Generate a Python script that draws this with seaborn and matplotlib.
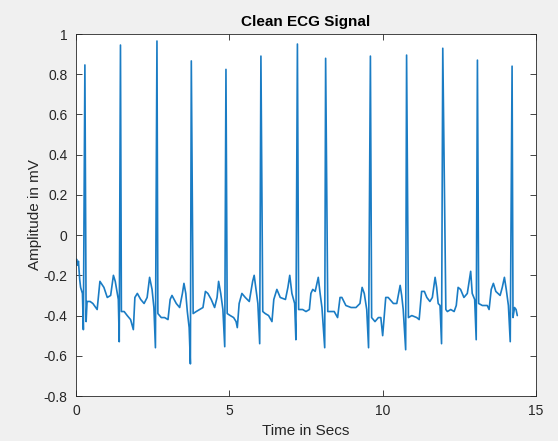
import matplotlib
matplotlib.use("Agg")
import matplotlib.pyplot as plt
import seaborn as sns

# ECG trace (seconds, mV)
time_s = [
    0.00, 0.02, 0.05, 0.08, 0.12, 0.15, 0.21, 0.24, 0.29, 0.33, 0.36, 0.46, 0.55, 0.69,
    0.78, 0.91, 1.02, 1.13, 1.22, 1.28, 1.38, 1.41, 1.45,
    1.48, 1.57, 1.67, 1.78, 1.87, 1.92, 2.00, 2.11, 2.22, 2.32, 2.40, 2.48, 2.54, 2.59, 2.64,
    2.67, 2.78, 2.89, 3.00, 3.07, 3.13, 3.27, 3.38, 3.47, 3.52, 3.58, 3.63, 3.69, 3.73, 3.76,
    3.82, 3.92, 4.03, 4.14, 4.22, 4.30, 4.41, 4.52, 4.60, 4.65, 4.72, 4.79, 4.85, 4.89,
    4.93, 5.03, 5.14, 5.22, 5.26, 5.32, 5.41, 5.52, 5.65, 5.76, 5.81, 5.87, 5.93, 5.99, 6.03,
    6.09, 6.17, 6.28, 6.39, 6.45, 6.55, 6.66, 6.83, 6.91, 6.97, 7.04, 7.13, 7.17, 7.22,
    7.26, 7.39, 7.50, 7.61, 7.66, 7.72, 7.80, 7.90, 7.96, 8.02, 8.11, 8.14,
    8.21, 8.32, 8.42, 8.53, 8.61, 8.67, 8.80, 8.97, 9.13, 9.26, 9.33, 9.40, 9.48, 9.54, 9.60,
    9.64, 9.75, 9.86, 9.94, 10.00, 10.10, 10.18, 10.35, 10.46, 10.57, 10.62, 10.67, 10.75, 10.78,
    10.84, 10.95, 11.11, 11.19, 11.27, 11.36, 11.44, 11.54, 11.62, 11.71, 11.76, 11.81, 11.87, 11.92, 11.96,
    12.06, 12.11, 12.22, 12.33, 12.40, 12.46, 12.54, 12.65, 12.76, 12.87, 12.92, 13.00, 13.05, 13.09,
    13.13, 13.25, 13.41, 13.47, 13.54, 13.61, 13.69, 13.83, 13.90, 13.97, 14.03, 14.10, 14.16, 14.22,
    14.25, 14.30, 14.35, 14.39,
]
amplitude_mv = [
    -0.13, -0.12, -0.15, -0.13, -0.22, -0.26, -0.29, -0.47, 0.846, -0.43, -0.33, -0.33, -0.34, -0.37,
    -0.23, -0.26, -0.31, -0.30, -0.20, -0.23, -0.32, -0.53, 0.945,
    -0.38, -0.38, -0.40, -0.42, -0.47, -0.31, -0.29, -0.32, -0.34, -0.31, -0.21, -0.27, -0.36, -0.56, 0.965,
    -0.39, -0.41, -0.41, -0.42, -0.32, -0.30, -0.34, -0.36, -0.29, -0.24, -0.29, -0.38, -0.46, -0.64, 0.866,
    -0.39, -0.38, -0.37, -0.36, -0.28, -0.29, -0.32, -0.36, -0.31, -0.23, -0.29, -0.37, -0.555, 0.824,
    -0.39, -0.40, -0.41, -0.43, -0.46, -0.34, -0.29, -0.31, -0.33, -0.23, -0.20, -0.27, -0.34, -0.54, 0.89,
    -0.38, -0.39, -0.40, -0.43, -0.32, -0.27, -0.31, -0.32, -0.26, -0.20, -0.29, -0.34, -0.52, 0.95,
    -0.37, -0.37, -0.38, -0.37, -0.29, -0.27, -0.28, -0.21, -0.29, -0.36, -0.56, 0.879,
    -0.38, -0.38, -0.38, -0.41, -0.31, -0.31, -0.35, -0.36, -0.36, -0.34, -0.26, -0.29, -0.37, -0.56, 0.89,
    -0.41, -0.43, -0.41, -0.41, -0.50, -0.31, -0.31, -0.34, -0.34, -0.25, -0.30, -0.37, -0.57, 0.895,
    -0.41, -0.40, -0.41, -0.42, -0.28, -0.28, -0.31, -0.33, -0.31, -0.21, -0.26, -0.34, -0.35, -0.54, 0.929,
    -0.37, -0.38, -0.37, -0.38, -0.35, -0.26, -0.27, -0.31, -0.29, -0.18, -0.29, -0.32, -0.52, 0.87,
    -0.34, -0.35, -0.35, -0.37, -0.27, -0.24, -0.28, -0.30, -0.26, -0.21, -0.27, -0.35, -0.53, 0.84,
    -0.41, -0.36, -0.37, -0.40,
]

x_ticks = [0, 5, 10, 15]
y_ticks = [-0.8, -0.6, -0.4, -0.2, 0, 0.2, 0.4, 0.6, 0.8, 1]
y_tick_labels = ["-0.8", "-0.6", "-0.4", "-0.2", "0", "0.2", "0.4", "0.6", "0.8", "1"]

sns.set_style("ticks")
plt.rcParams["font.family"] = ["Liberation Sans", "DejaVu Sans"]
plt.rcParams["axes.unicode_minus"] = False

fig = plt.figure(figsize=(5.58, 4.41), dpi=100, facecolor="#f0f0f0")
ax = fig.add_axes([76 / 558, 45 / 441, 460 / 558, 362 / 441])
ax.set_facecolor("white")

sns.lineplot(x=time_s, y=amplitude_mv, ax=ax, color="#1a7cc4", linewidth=1.2,
             estimator=None, sort=False)

ax.set_xlim(0, 15)
ax.set_ylim(-0.8, 1)
ax.set_xticks(x_ticks)
ax.set_xticklabels([str(t) for t in x_ticks])
ax.set_yticks(y_ticks)
ax.set_yticklabels(y_tick_labels)

ax.tick_params(direction="in", length=4, width=0.6, colors="#262626",
               labelsize=10, top=True, right=True, pad=6)
for side in ["top", "right", "bottom", "left"]:
    ax.spines[side].set_visible(True)
    ax.spines[side].set_color("#262626")
    ax.spines[side].set_linewidth(0.6)

ax.set_title("Clean ECG Signal", fontsize=11, fontweight="bold", color="black", pad=6)
ax.set_xlabel("Time in Secs", fontsize=11, color="#262626", labelpad=4)
ax.set_ylabel("Amplitude in mV", fontsize=11, color="#262626", labelpad=1)

fig.savefig("out.png", dpi=100, facecolor=fig.get_facecolor())
